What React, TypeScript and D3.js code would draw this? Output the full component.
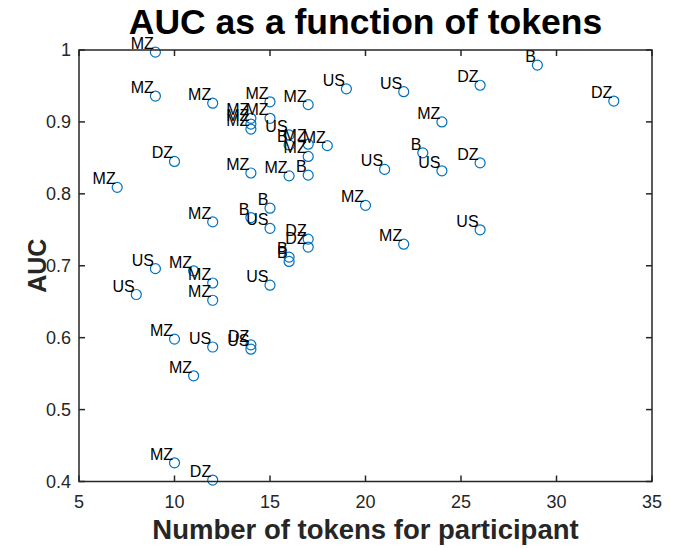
import React from "react";
import * as d3 from "d3";

const labels = ["MZ","MZ","MZ","MZ","MZ","MZ","MZ","MZ","US","B","MZ","MZ","MZ","MZ","US","US","DZ","B","DZ","MZ","B","US","US","DZ","MZ","MZ","US","MZ","DZ","MZ","MZ","B","MZ","B","B","US","DZ","DZ","B","B","US","US","US","MZ","MZ","MZ","MZ","US","DZ","US","MZ","MZ","DZ"];
const tokens = [9,9,12,14,14,14,15,15,16,16,17,18,17,17,19,22,26,29,33,24,23,24,21,26,20,22,26,7,10,14,16,17,12,15,14,15,17,17,16,16,15,9,8,11,12,12,10,12,14,14,11,10,12];
const auc = [0.997,0.936,0.926,0.905,0.897,0.890,0.928,0.905,0.882,0.868,0.869,0.867,0.852,0.924,0.946,0.942,0.951,0.979,0.929,0.900,0.857,0.832,0.834,0.843,0.784,0.730,0.750,0.809,0.845,0.829,0.825,0.826,0.761,0.780,0.767,0.752,0.737,0.726,0.712,0.706,0.673,0.696,0.660,0.693,0.676,0.652,0.598,0.587,0.590,0.584,0.547,0.426,0.402];

const xTicks = [5,10,15,20,25,30,35];
const yTicks = [0.4,0.5,0.6,0.7,0.8,0.9,1];
const title = "AUC as a function of tokens";
const xLabel = "Number of tokens for participant";
const yLabel = "AUC";

export default function App() {
  const W = 675, H = 548;
  const left = 79, right = 652, top = 50, bottom = 481.5;
  const x = d3.scaleLinear().domain([5, 35]).range([left, right]);
  const y = d3.scaleLinear().domain([0.4, 1]).range([bottom, top]);
  const axisColor = "#262626";
  const font = "'Liberation Sans', Arial, Helvetica, sans-serif";
  const tl = 6;
  return (
    <svg width={W} height={H} style={{ position: "absolute", left: 0, top: 0, background: "#fff" }} fontFamily={font}>
      <rect x={0} y={0} width={W} height={H} fill="#fff" />
      {tokens.map((t, i) => (
        <circle key={"c" + i} cx={x(t)} cy={y(auc[i])} r={5} fill="none" stroke="#0072BD" strokeWidth={1.2} />
      ))}
      {tokens.map((t, i) => (
        <text key={"t" + i} x={x(t) - 1.5} y={y(auc[i]) - 3} textAnchor="end" fontSize={16} fill="#000">{labels[i]}</text>
      ))}
      <rect x={left} y={top} width={right - left} height={bottom - top} fill="none" stroke={axisColor} strokeWidth={1.5} />
      {xTicks.map((t) => (
        <g key={"xt" + t}>
          <line x1={x(t)} x2={x(t)} y1={bottom} y2={bottom - tl} stroke={axisColor} strokeWidth={1.5} />
          <line x1={x(t)} x2={x(t)} y1={top} y2={top + tl} stroke={axisColor} strokeWidth={1.5} />
          <text x={x(t)} y={bottom + 26} textAnchor="middle" fontSize={18} fill={axisColor}>{t}</text>
        </g>
      ))}
      {yTicks.map((t) => (
        <g key={"yt" + t}>
          <line x1={left} x2={left + tl} y1={y(t)} y2={y(t)} stroke={axisColor} strokeWidth={1.5} />
          <line x1={right} x2={right - tl} y1={y(t)} y2={y(t)} stroke={axisColor} strokeWidth={1.5} />
          <text x={left - 8} y={y(t)} dy="0.35em" textAnchor="end" fontSize={18} fill={axisColor}>{String(t)}</text>
        </g>
      ))}
      <text x={(left + right) / 2} y={34} textAnchor="middle" fontSize={35.5} fontWeight="bold" fill="#000">{title}</text>
      <text x={(left + right) / 2} y={539} textAnchor="middle" fontSize={27.5} fontWeight="bold" fill={axisColor}>{xLabel}</text>
      <text transform={`translate(46,${(top + bottom) / 2}) rotate(-90)`} textAnchor="middle" fontSize={25} fontWeight="bold" fill={axisColor}>{yLabel}</text>
    </svg>
  );
}
